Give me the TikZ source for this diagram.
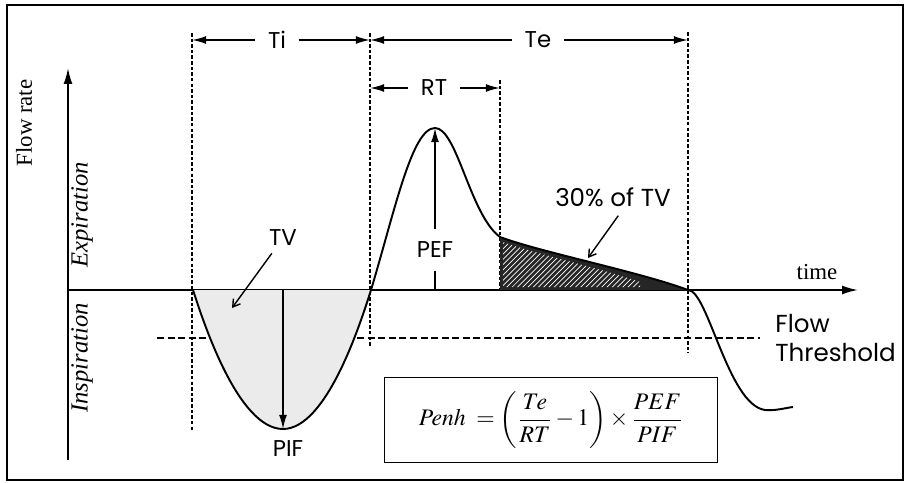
\documentclass[tikz,border=0pt]{standalone}
\usepackage{mathptmx}
\usepackage[no-math]{fontspec}
\setmainfont{Liberation Serif}
\newfontfamily\gothic{Poppins}
\usetikzlibrary{arrows.meta,patterns}

\begin{document}
\begin{tikzpicture}[
  x=0.02cm, y=-0.02cm,
  lbl/.style={font=\gothic\fontsize{13}{15}\selectfont, inner sep=0pt},
  axislbl/.style={font=\fontsize{13}{15}\selectfont, inner sep=0pt},
  phase/.style={font=\fontsize{14}{16}\selectfont\itshape, inner sep=0pt, rotate=90},
  axis/.style={line width=1pt, -{Latex[length=9pt,width=5pt]}},
  curve/.style={line width=1.1pt},
  guide/.style={line width=0.8pt, dash pattern=on 2pt off 1.2pt},
  thresh/.style={line width=1.2pt, dash pattern=on 4pt off 2pt},
  dimarrow/.style={line width=0.9pt, -{Latex[length=8pt,width=4.5pt]}},
  pointer/.style={line width=0.8pt, -{Straight Barb[length=4pt,width=5pt]}},
]

\useasboundingbox (0,0) rectangle (906,483);
\draw[line width=1.1pt] (7,5) rectangle (903,480);

% ---------------- axes ----------------
\coordinate (o) at (68,290);
\coordinate (ytop) at (68,68);
\coordinate (ybot) at (68,460);
\coordinate (xend) at (858,290);
\draw[axis] (ybot) -- (ytop);
\draw[axis] (o) -- (xend);
\node[axislbl, rotate=90] (flowrate) at (24,123) {Flow rate};
\node[phase] (expi) at (82,215) {Expiration};
\node[phase] (inspi) at (82,358) {Inspiration};
\node[axislbl] (time) at (817,272) {time};

% ---------------- breath markers ----------------
\coordinate (ti0) at (192,33);
\coordinate (ti1) at (370,33);
\coordinate (rt1) at (500,80);
\coordinate (te1) at (688,32);
\draw[guide] (ti0) -- (192,430);
\draw[guide] (ti1) -- (370,347);
\draw[guide] (rt1) -- (500,290);
\draw[guide] (te1) -- (688,353);

\draw[thresh] (157,338) -- (760,338);
\node[lbl, anchor=west, align=left, font=\gothic\fontsize{14}{17}\selectfont] (thr) at (775,338) {Flow\\Threshold};

% shaded areas
\fill[black!8] (193,290) parabola bend (283,429) (371,290) -- cycle;
\fill[black!85] (500,290) -- (500,237) .. controls (540,252) and (640,272) .. (688,290) -- cycle;
\fill[pattern=north east lines, pattern color=white] (503,287) -- (503,242) .. controls (540,255) and (600,268) .. (640,282) -- (640,287) -- cycle;

% flow signal
\coordinate (trough) at (283,429);
\coordinate (peak) at (435,128);
\draw[curve] (193,290) parabola bend (trough) (371,290)
  .. controls (395,210) and (412,128) .. (peak)
  .. controls (457,128) and (470,215) .. (500,237)
  .. controls (540,252) and (640,272) .. (688,290)
  .. controls (708,290) and (728,405) .. (765,410)
  .. controls (775,411) and (785,408) .. (793,407);

% ---------------- durations ----------------
\node[lbl, inner xsep=7pt] (ti) at (277,40) {Ti};
\node[lbl, inner xsep=7pt] (te) at (538,40) {Te};
\node[lbl, inner xsep=7pt] (rt) at (434,88) {RT};
\draw[dimarrow] (ti) -- (ti -| ti0);
\draw[dimarrow] (ti) -- (ti -| ti1);
\draw[dimarrow] (te) -- (te -| ti1);
\draw[dimarrow] (te) -- (te -| te1);
\draw[dimarrow] (rt) -- (rt -| ti1);
\draw[dimarrow] (rt) -- (rt -| rt1);

% ---------------- peaks and volumes ----------------
\node[lbl, inner ysep=7pt] (pef) at (435,250) {PEF};
\draw[dimarrow] (pef) -- (peak);
\draw[line width=0.9pt] (pef) -- (pef |- o);

\coordinate (pif0) at (283,290);
\draw[dimarrow] (pif0) -- (trough);
\node[lbl] (pif) at (288,449) {PIF};

\node[lbl, inner sep=4pt] (tv) at (283,238) {TV};
\coordinate (tvtip) at (232,308);
\draw[pointer] (tv) -- (tvtip);

\node[lbl, font=\gothic\fontsize{14}{16}\selectfont] (pct) at (613,197) {30\% of TV};
\coordinate (pcttip) at (588,258);
\draw[pointer] ([xshift=3pt,yshift=-5pt]pct.south) -- (pcttip);

% ---------------- formula ----------------
\node[draw, line width=1pt, minimum width=6.66cm, minimum height=1.7cm,
      font=\fontsize{13.5}{15}\selectfont] (penh) at (551,420)
  {$\displaystyle \mathit{Penh}\;=\left(\frac{Te}{RT}-1\right)\times\frac{PEF}{PIF}$};

\end{tikzpicture}
\end{document}
